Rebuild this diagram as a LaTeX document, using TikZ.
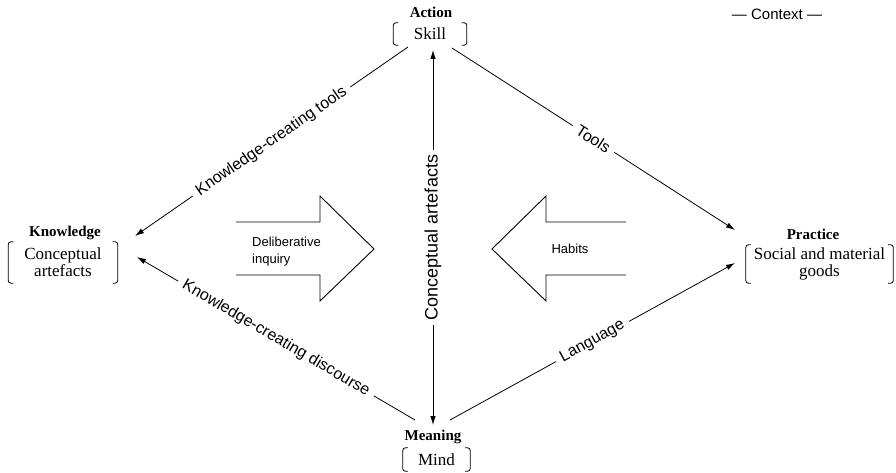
\documentclass[tikz,border=0pt]{standalone}
\usepackage{fontspec}
\setmainfont{Liberation Serif}
\newfontfamily\hel{Liberation Sans}
\usetikzlibrary{arrows.meta}
% square brackets drawn round a node
\newcommand\drawbrackets[1]{%
  \draw[bracket] ([xshift=5pt]#1.north west) -- (#1.north west) -- (#1.south west) -- ([xshift=5pt]#1.south west);
  \draw[bracket] ([xshift=-5pt]#1.north east) -- (#1.north east) -- (#1.south east) -- ([xshift=-5pt]#1.south east);}
\begin{document}
\begin{tikzpicture}[x=1pt,y=-1pt,
  title/.style={font=\bfseries\fontsize{15}{16}\selectfont, inner sep=0pt},
  content/.style={font=\fontsize{17}{17}\selectfont, align=center, inner sep=0pt},
  bracket/.style={line width=0.8pt, rounded corners=2.5pt},
  link/.style={line width=0.8pt},
  tip/.style={-{Latex[length=9pt,width=5.5pt]}},
  bothtips/.style={{Latex[length=9pt,width=5.5pt]}-{Latex[length=9pt,width=5.5pt]}},
  lbl/.style={font=\hel\fontsize{16}{16}\selectfont, fill=white, inner xsep=6pt, inner ysep=1pt},
  bigarrow/.style={line width=0.9pt, line join=miter},
  arrowtext/.style={font=\hel\fontsize{13}{17}\selectfont, align=left, inner sep=0pt}]
\useasboundingbox (0,0) rectangle (896,473);

% the four poles
\node[title] (action) at (431,12) {Action};
\node[content, minimum width=73pt, minimum height=22pt] (skill) at (430,34) {Skill};
\drawbrackets{skill}

\node[title] (knowledge) at (65,233) {Knowledge};
\node[content, minimum width=109pt, minimum height=41pt] (concept) at (63,262.5) {Conceptual\\artefacts};
\drawbrackets{concept}

\node[title] (practice) at (813,234) {Practice};
\node[content, minimum width=147pt, minimum height=38pt] (goods) at (819.5,264) {Social and material\\goods};
\drawbrackets{goods}

\node[title] (meaning) at (433,437) {Meaning};
\node[content, minimum width=67pt, minimum height=23pt] (mind) at (436.5,459.5) {Mind};
\drawbrackets{mind}

\node[font=\hel\fontsize{15}{16}\selectfont, inner sep=0pt] (context) at (777,14) {— Context —};

% connector end points next to the poles
\coordinate (actL) at (408,47);
\coordinate (actR) at (452,48);
\coordinate (actM) at (433,50);
\coordinate (knowT) at (135,236);
\coordinate (knowB) at (137,257);
\coordinate (pracT) at (735,230);
\coordinate (pracB) at (735,263);
\coordinate (meanL) at (415,420);
\coordinate (meanR) at (450,420);
\coordinate (meanM) at (433,425);

\draw[link,tip] (actL) -- node[lbl,sloped] {Knowledge-creating tools} (knowT);
\draw[link,tip] (actR) -- node[lbl,sloped] {Tools} (pracT);
\draw[link,tip] (meanL) -- node[lbl,sloped] {Knowledge-creating discourse} (knowB);
\draw[link,tip] (meanR) -- node[lbl,sloped] {Language} (pracB);
\draw[link,bothtips] (actM) -- node[lbl,rotate=90,font=\hel\fontsize{18}{18}\selectfont,inner xsep=5pt,inner ysep=2pt] {Conceptual artefacts} (meanM);

% the two broad arrows
\draw[bigarrow] (236,222) -- (320,222) -- (320,196) -- (374,249) -- (320,301) -- (320,275) -- (236,275);
\node[arrowtext, anchor=west] (delib) at (252,252) {Deliberative\\inquiry};
\draw[bigarrow] (626,222) -- (546,222) -- (546,196) -- (492,249) -- (546,301) -- (546,275) -- (626,275);
\node[arrowtext] (habits) at (570,249) {Habits};
\end{tikzpicture}
\end{document}
